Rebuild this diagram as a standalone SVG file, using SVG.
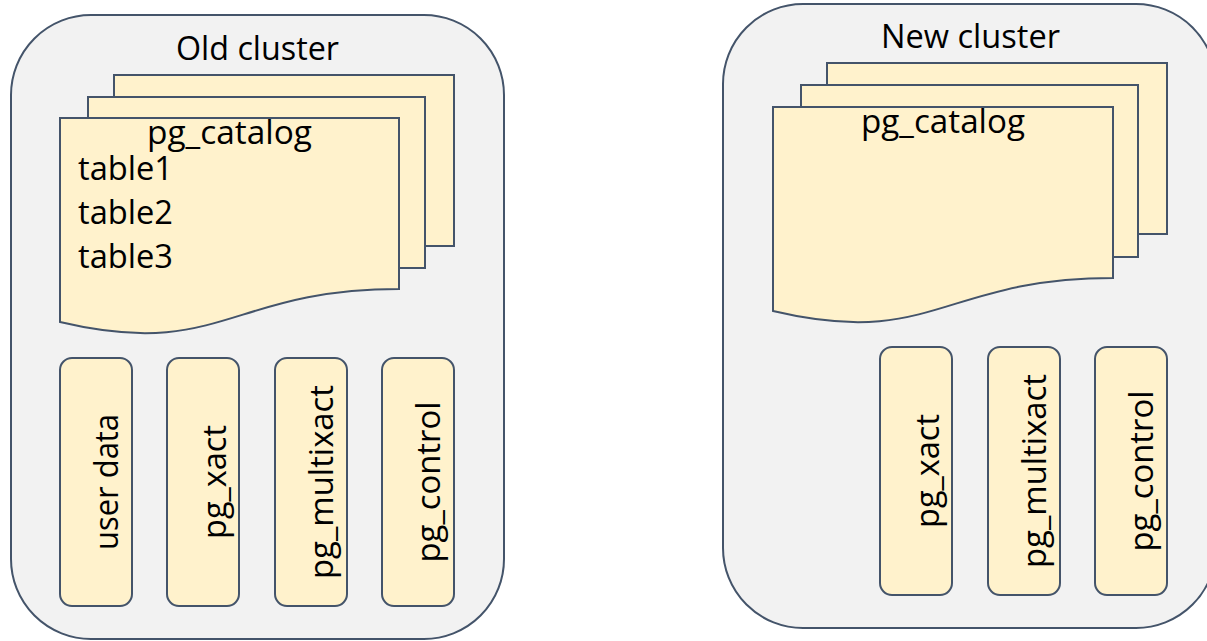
<svg xmlns="http://www.w3.org/2000/svg" width="1207" height="641" viewBox="0 0 1207 641">
  <style>
    .cluster { fill: #F2F2F2; stroke: #44546A; stroke-width: 2; }
    .doc { fill: #FFF2CC; stroke: #44546A; stroke-width: 2; }
    .pill { fill: #FFF2CC; stroke: #44546A; stroke-width: 2; }
    text { font-family: "Open Sans", "Noto Sans", sans-serif; font-size: 32px; fill: #000000; }
    .mid { text-anchor: middle; }
  </style>
  <rect width="1207" height="641" fill="#FFFFFF"/>

  <g id="old-cluster">
    <rect class="cluster" x="11" y="15" width="493" height="624" rx="80" ry="80"/>
    <text class="mid" x="257.5" y="60" textLength="163" lengthAdjust="spacingAndGlyphs">Old cluster</text>
  </g>

  <g id="old-pg-catalog">
    <rect class="doc" x="114" y="75" width="340" height="171"/>
    <rect class="doc" x="88" y="97" width="337" height="171"/>
    <path class="doc" d="M60,118 H399 V289 C230,289 220,360 60,322 Z"/>
    <text class="mid" x="229.5" y="143.5" textLength="165" lengthAdjust="spacingAndGlyphs">pg_catalog</text>
    <text x="78" y="180" textLength="95" lengthAdjust="spacingAndGlyphs">table1</text>
    <text x="78" y="224" textLength="95" lengthAdjust="spacingAndGlyphs">table2</text>
    <text x="78" y="268" textLength="95" lengthAdjust="spacingAndGlyphs">table3</text>
  </g>

  <g id="old-user-data">
    <rect class="pill" x="60" y="358" width="72" height="248" rx="12" ry="12"/>
    <text class="mid" transform="translate(118,482) rotate(-90)" textLength="136" lengthAdjust="spacingAndGlyphs">user data</text>
  </g>
  <g id="old-pg-xact">
    <rect class="pill" x="167" y="358" width="72" height="248" rx="12" ry="12"/>
    <text class="mid" transform="translate(226,482) rotate(-90)" textLength="114" lengthAdjust="spacingAndGlyphs">pg_xact</text>
  </g>
  <g id="old-pg-multixact">
    <rect class="pill" x="275" y="358" width="72" height="248" rx="12" ry="12"/>
    <text class="mid" transform="translate(333,482) rotate(-90)" textLength="194" lengthAdjust="spacingAndGlyphs">pg_multixact</text>
  </g>
  <g id="old-pg-control">
    <rect class="pill" x="382" y="358" width="72" height="248" rx="12" ry="12"/>
    <text class="mid" transform="translate(440,482) rotate(-90)" textLength="161" lengthAdjust="spacingAndGlyphs">pg_control</text>
  </g>

  <g id="new-cluster">
    <rect class="cluster" x="723" y="4" width="493" height="624" rx="80" ry="80"/>
    <text class="mid" x="970.5" y="48" textLength="179" lengthAdjust="spacingAndGlyphs">New cluster</text>
  </g>

  <g id="new-pg-catalog">
    <rect class="doc" x="827" y="63" width="340" height="171"/>
    <rect class="doc" x="801" y="85" width="337" height="172"/>
    <path class="doc" d="M773,107 H1113 V278 C943,278 933,349 773,311 Z"/>
    <text class="mid" x="943" y="133" textLength="164" lengthAdjust="spacingAndGlyphs">pg_catalog</text>
  </g>

  <g id="new-pg-xact">
    <rect class="pill" x="880" y="347" width="72" height="248" rx="12" ry="12"/>
    <text class="mid" transform="translate(939,471) rotate(-90)" textLength="114" lengthAdjust="spacingAndGlyphs">pg_xact</text>
  </g>
  <g id="new-pg-multixact">
    <rect class="pill" x="988" y="347" width="72" height="248" rx="12" ry="12"/>
    <text class="mid" transform="translate(1046,471) rotate(-90)" textLength="194" lengthAdjust="spacingAndGlyphs">pg_multixact</text>
  </g>
  <g id="new-pg-control">
    <rect class="pill" x="1095" y="347" width="72" height="248" rx="12" ry="12"/>
    <text class="mid" transform="translate(1153,471) rotate(-90)" textLength="161" lengthAdjust="spacingAndGlyphs">pg_control</text>
  </g>

  <g id="connectors"></g>
</svg>
